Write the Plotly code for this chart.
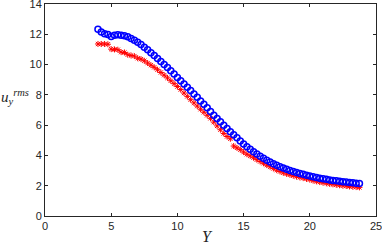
import plotly.graph_objects as go

x_vals = [4.0, 4.25, 4.5, 4.75, 5.0, 5.25, 5.5, 5.75, 6.0, 6.25, 6.5, 6.75, 7.0, 7.25, 7.5, 7.75,
          8.0, 8.25, 8.5, 8.75, 9.0, 9.25, 9.5, 9.75, 10.0, 10.25, 10.5, 10.75, 11.0, 11.25, 11.5, 11.75,
          12.0, 12.25, 12.5, 12.75, 13.0, 13.25, 13.5, 13.75, 14.0, 14.25, 14.5, 14.75, 15.0, 15.25, 15.5, 15.75,
          16.0, 16.25, 16.5, 16.75, 17.0, 17.25, 17.5, 17.75, 18.0, 18.25, 18.5, 18.75, 19.0, 19.25, 19.5, 19.75,
          20.0, 20.25, 20.5, 20.75, 21.0, 21.25, 21.5, 21.75, 22.0, 22.25, 22.5, 22.75, 23.0, 23.25, 23.5, 23.75]

blue_vals = [12.33, 12.15, 12.04, 11.98, 11.85, 11.93, 11.97, 11.93, 11.90, 11.84, 11.72, 11.60, 11.47, 11.32, 11.15, 10.98,
             10.78, 10.60, 10.40, 10.20, 10.00, 9.80, 9.60, 9.38, 9.15, 8.93, 8.72, 8.50, 8.28, 8.06, 7.84, 7.60,
             7.38, 7.15, 6.90, 6.66, 6.44, 6.22, 6.00, 5.78, 5.56, 5.36, 5.16, 4.96, 4.76, 4.58, 4.40, 4.24,
             4.09, 3.95, 3.82, 3.68, 3.56, 3.45, 3.35, 3.26, 3.17, 3.09, 3.01, 2.94, 2.87, 2.81, 2.75, 2.69,
             2.64, 2.59, 2.54, 2.50, 2.46, 2.42, 2.38, 2.35, 2.32, 2.29, 2.26, 2.24, 2.21, 2.19, 2.17, 2.15]

red_vals = [11.36, 11.36, 11.36, 11.34, 11.02, 11.00, 10.98, 10.82, 10.80, 10.65, 10.60, 10.56, 10.42, 10.36, 10.25, 10.10,
            9.96, 9.82, 9.66, 9.48, 9.30, 9.12, 8.93, 8.74, 8.55, 8.35, 8.12, 7.90, 7.68, 7.47, 7.26, 7.05,
            6.85, 6.65, 6.45, 6.20, 5.95, 5.70, 5.45, 5.25, 5.10, 4.62, 4.50, 4.38, 4.22, 4.08, 3.97, 3.85,
            3.72, 3.60, 3.48, 3.36, 3.25, 3.14, 3.03, 2.94, 2.85, 2.78, 2.72, 2.66, 2.60, 2.55, 2.50, 2.45,
            2.40, 2.34, 2.29, 2.24, 2.20, 2.16, 2.12, 2.09, 2.06, 2.03, 2.00, 1.98, 1.95, 1.93, 1.91, 1.89]

x_ticks = [0, 5, 10, 15, 20, 25]
y_ticks = [0, 2, 4, 6, 8, 10, 12, 14]

fig = go.Figure()
fig.add_trace(go.Scatter(x=x_vals, y=red_vals, mode="markers",
                         marker=dict(symbol="asterisk-open", size=5, color="#ff0000",
                                     line=dict(color="#ff0000", width=1)),
                         showlegend=False))
fig.add_trace(go.Scatter(x=x_vals, y=blue_vals, mode="markers",
                         marker=dict(symbol="circle-open", size=6, color="#0000ff",
                                     line=dict(color="#0000ff", width=1.5)),
                         showlegend=False))

axis_common = dict(showline=True, mirror="ticks", linecolor="#262626", linewidth=1,
                   ticks="inside", ticklen=3, tickcolor="#262626", showgrid=False, zeroline=False,
                   automargin=False, ticklabeloverflow="allow",
                   tickfont=dict(family="Liberation Sans, Arial, sans-serif", size=11, color="#262626"))

fig.update_layout(
    template="none",
    width=382, height=246,
    margin=dict(l=45, r=6, t=4, b=30),
    paper_bgcolor="white", plot_bgcolor="white",
    xaxis=dict(range=[0, 25], tickvals=x_ticks, ticktext=[str(t) for t in x_ticks], **axis_common),
    yaxis=dict(range=[0, 14], tickvals=y_ticks, ticktext=[str(t) for t in y_ticks], **axis_common),
    annotations=[
        dict(text="<i>u</i><sub><i>y</i></sub><sup><i>rms</i></sup>", xref="paper", yref="paper",
             x=-0.092, y=0.56, xanchor="center", yanchor="middle", showarrow=False,
             font=dict(family="Liberation Serif, DejaVu Serif, serif", size=15, color="#262626")),
        dict(text="<i>Y</i>", xref="paper", yref="paper",
             x=0.49, y=-0.098, xanchor="center", yanchor="middle", showarrow=False,
             font=dict(family="Liberation Serif, DejaVu Serif, serif", size=16, color="#262626")),
    ],
)

fig.write_html("out.html", config={"displayModeBar": False},
               post_script="document.body.style.margin='0';")
